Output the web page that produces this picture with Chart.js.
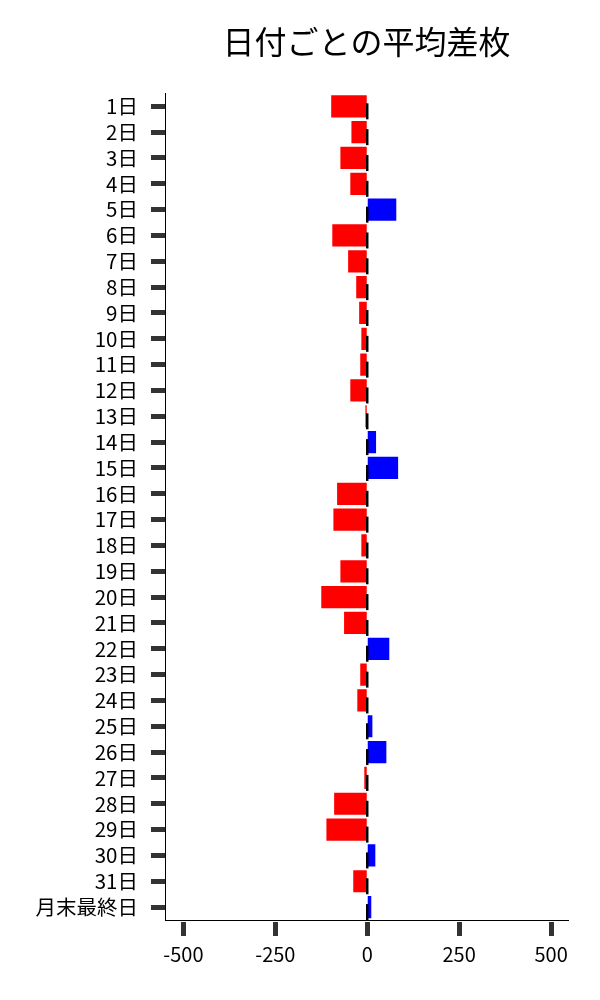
<!DOCTYPE html>
<html>
<head>
<meta charset="utf-8">
<script src="https://cdn.jsdelivr.net/npm/chart.js@4.4.1/dist/chart.umd.min.js"></script>
<style>
  html, body { margin: 0; padding: 0; background: #fff; }
  #wrap { width: 600px; height: 1000px; }
</style>
</head>
<body>
<div id="wrap"><canvas id="chart" width="600" height="1000"></canvas></div>
<script>
// 日付ごとの平均差枚
var hiduke = ["1日","2日","3日","4日","5日","6日","7日","8日","9日","10日","11日","12日","13日","14日","15日","16日","17日","18日","19日","20日","21日","22日","23日","24日","25日","26日","27日","28日","29日","30日","31日","月末最終日"];
var heikin_sama = [-98, -43, -73, -46, 79, -95, -52, -30, -22, -16, -19, -46, -5, 24, 84, -82, -92, -16, -73, -125, -63, 60, -19, -27, 14, 52, -8, -90, -111, 22, -38, 11];
var x_ticks = [-500, -250, 0, 250, 500];

var iro = heikin_sama.map(v => v < 0 ? '#ff0000' : '#0000ff');

// linie neagra mica la zero pentru fiecare bara
var zeroMarks = {
    id: 'zeroMarks',
    afterDatasetsDraw(chart) {
        var ctx = chart.ctx;
        var x0 = chart.scales.x.getPixelForValue(0);
        ctx.save();
        ctx.strokeStyle = '#000';
        ctx.lineWidth = 2.5;
        chart.getDatasetMeta(0).data.forEach(bar => {
            ctx.beginPath();
            ctx.moveTo(x0, bar.y - 3);
            ctx.lineTo(x0, bar.y + 13);
            ctx.stroke();
        });
        ctx.restore();
    }
};

var ctx = document.getElementById('chart').getContext('2d');
new Chart(ctx, {
    type: 'bar',
    data: {
        labels: hiduke,
        datasets: [{
            data: heikin_sama,
            backgroundColor: iro,
            borderWidth: 0,
            barPercentage: 0.86,
            categoryPercentage: 1.0
        }]
    },
    options: {
        indexAxis: 'y',
        responsive: false,
        animation: false,
        devicePixelRatio: 1,
        layout: { padding: { left: 30, right: 32, top: 0, bottom: 0 } },
        plugins: {
            legend: { display: false },
            tooltip: { enabled: false },
            title: {
                display: true,
                fullSize: false,
                text: '日付ごとの平均差枚',
                color: '#000',
                font: { family: '"Noto Sans CJK JP"', size: 32, weight: 'normal', lineHeight: 1.2 },
                padding: { top: 23, bottom: 32 }
            }
        },
        scales: {
            x: {
                min: -550,
                max: 546,
                afterBuildTicks: scale => { scale.ticks = x_ticks.map(v => ({ value: v })); },
                afterFit: scale => { scale.height = 80; },
                border: { display: true, color: '#000', width: 1 },
                grid: {
                    drawOnChartArea: false,
                    drawTicks: true,
                    tickLength: 16,
                    tickWidth: 5,
                    tickColor: '#333',
                    tickBorderDash: [0, 1, 14, 40]
                },
                ticks: {
                    color: '#000',
                    padding: 6,
                    maxRotation: 0,
                    font: { family: '"Noto Sans CJK JP"', size: 20 }
                }
            },
            y: {
                afterFit: scale => { scale.width = 135; },
                border: { display: true, color: '#000', width: 1 },
                grid: {
                    offset: false,
                    drawOnChartArea: false,
                    drawTicks: true,
                    tickLength: 16,
                    tickWidth: 5,
                    tickColor: '#333',
                    tickBorderDash: [0, 2, 14, 40]
                },
                ticks: {
                    color: '#000',
                    padding: 11,
                    autoSkip: false,
                    font: { family: '"Noto Sans CJK JP"', size: 20.5 }
                }
            }
        }
    },
    plugins: [zeroMarks]
});
</script>
</body>
</html>
